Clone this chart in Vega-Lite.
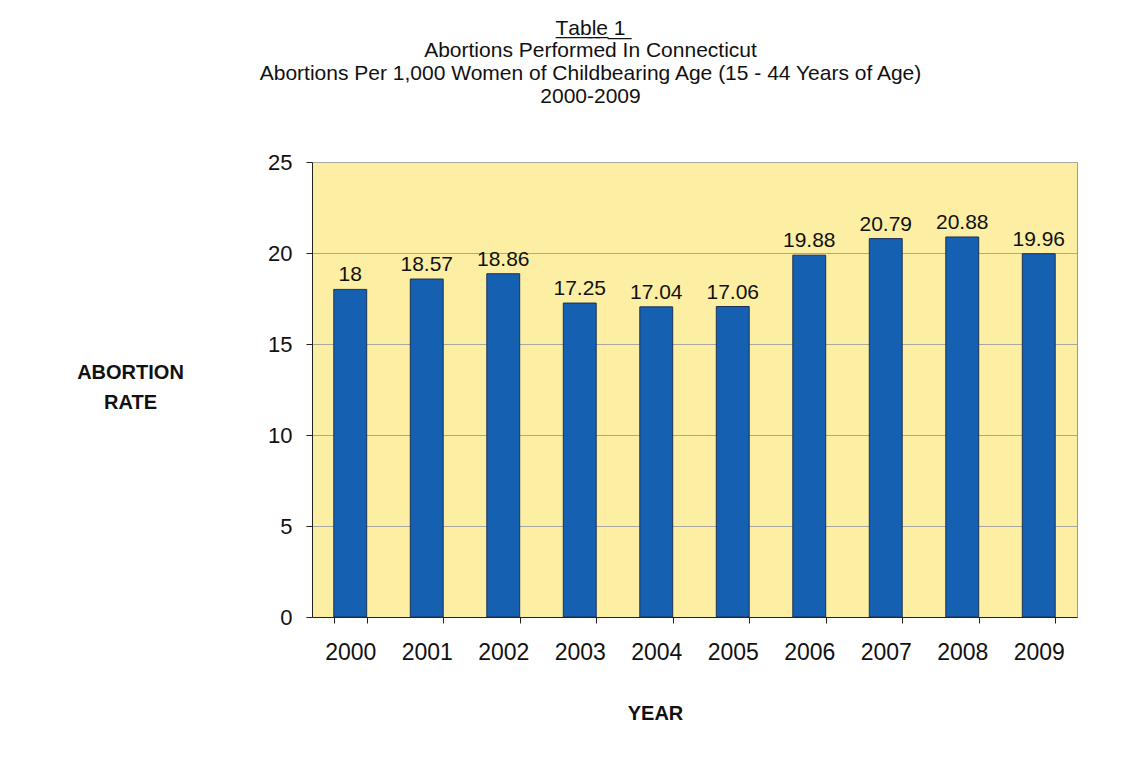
{
  "$schema": "https://vega.github.io/schema/vega-lite/v6.json",
  "width": 765,
  "height": 455,
  "autosize": {"type": "none"},
  "padding": {"left": 312, "top": 162, "right": 61, "bottom": 143},
  "background": "white",
  "config": {
    "font": "Liberation Sans",
    "view": {"fill": "#fcefa3", "stroke": "#9a9a9a", "strokeWidth": 1}
  },
  "title": {
    "text": "T̲a̲b̲l̲e̲ ̲1̲",
    "subtitle": [
      "Abortions Performed In Connecticut",
      "Abortions Per 1,000 Women of Childbearing Age (15 - 44 Years of Age)",
      "2000-2009"
    ],
    "fontSize": 21,
    "fontWeight": "normal",
    "color": "#111111",
    "subtitleFontSize": 21,
    "subtitleColor": "#111111",
    "subtitleLineHeight": 23,
    "subtitlePadding": 1,
    "anchor": "middle",
    "dx": -104,
    "offset": 44
  },
  "data": {
    "values": [
      {"year": "2000", "rate": 18},
      {"year": "2001", "rate": 18.57},
      {"year": "2002", "rate": 18.86},
      {"year": "2003", "rate": 17.25},
      {"year": "2004", "rate": 17.04},
      {"year": "2005", "rate": 17.06},
      {"year": "2006", "rate": 19.88},
      {"year": "2007", "rate": 20.79},
      {"year": "2008", "rate": 20.88},
      {"year": "2009", "rate": 19.96}
    ]
  },
  "encoding": {
    "x": {
      "field": "year",
      "type": "nominal",
      "scale": {"paddingInner": 0.57, "paddingOuter": 0.285},
      "axis": {
        "labelAngle": 0,
        "labelFontSize": 23,
        "labelColor": "#111111",
        "labelPadding": 18,
        "tickBand": "extent",
        "tickSize": 6,
        "tickColor": "#222222",
        "domainColor": "#222222",
        "title": "YEAR",
        "titleFontSize": 20,
        "titleFontWeight": "bold",
        "titleColor": "#111111",
        "titleX": 343,
        "titleY": 86,
        "titleAlign": "center",
        "titleBaseline": "top"
      }
    },
    "y": {
      "field": "rate",
      "type": "quantitative",
      "scale": {"domain": [0, 25]},
      "axis": {
        "values": [0, 5, 10, 15, 20, 25],
        "labelFontSize": 22,
        "labelColor": "#111111",
        "labelPadding": 14,
        "tickSize": 6,
        "tickColor": "#222222",
        "domainColor": "#222222",
        "gridColor": "#a8a8a0",
        "gridWidth": 1,
        "title": ["ABORTION", "RATE"],
        "titleAngle": 0,
        "titleFontSize": 20,
        "titleFontWeight": "bold",
        "titleColor": "#111111",
        "titleLineHeight": 30,
        "titleX": -182,
        "titleY": 200,
        "titleAlign": "center",
        "titleBaseline": "top"
      }
    }
  },
  "layer": [
    {"mark": {"type": "bar", "color": "#1660b2", "stroke": "#1c2f55", "strokeWidth": 1}},
    {
      "mark": {"type": "text", "baseline": "bottom", "dy": -4, "fontSize": 21, "color": "#111111"},
      "encoding": {"text": {"field": "rate", "type": "quantitative", "format": "~g"}}
    }
  ]
}
